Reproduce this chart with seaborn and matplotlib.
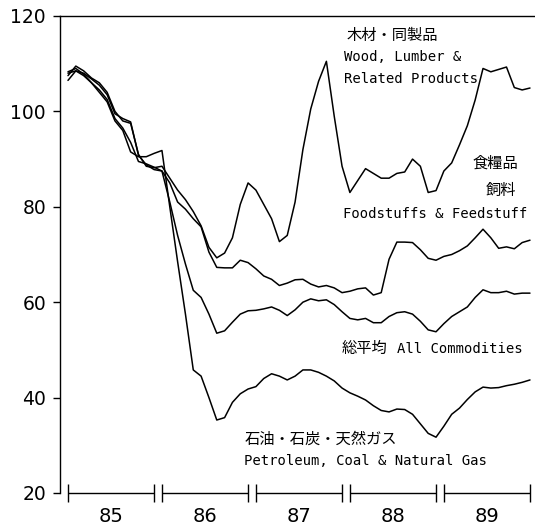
import matplotlib
matplotlib.use("Agg")
import matplotlib.pyplot as plt
import seaborn as sns
import pandas as pd
import numpy as np

# ---- data (monthly index, Jan 1985 .. Dec 1989) ----
years = ["85", "86", "87", "88", "89"]

wood = [107.5, 109.5, 108.5, 107.0, 106.0, 104.0, 100.0, 98.0, 97.5, 91.0, 88.5, 88.2,
        88.5, 86.0, 83.5, 81.5, 79.0, 76.0, 71.5, 69.3, 70.3, 73.5, 80.5, 85.0,
        83.5, 80.5, 77.5, 72.7, 74.0, 81.0, 92.0, 100.5, 106.3, 110.5, 99.0, 88.5,
        83.0, 85.5, 88.0, 87.0, 86.0, 86.0, 87.0, 87.3, 90.0, 88.5, 83.0, 83.4,
        87.5, 89.2, 93.0, 97.0, 102.4, 109.0, 108.3, 108.8, 109.3, 105.0, 104.5, 104.9]

food = [108.0, 108.5, 108.0, 106.8, 105.5, 103.5, 99.5, 98.5, 97.8, 90.8, 88.8, 87.8,
        87.5, 85.0, 81.0, 79.5, 77.5, 75.8, 70.5, 67.3, 67.2, 67.2, 68.8, 68.3,
        67.0, 65.5, 64.8, 63.5, 64.0, 64.7, 64.8, 63.8, 63.2, 63.5, 63.0, 62.0,
        62.3, 62.8, 63.0, 61.5, 62.0, 69.0, 72.6, 72.6, 72.5, 71.0, 69.2, 68.8,
        69.6, 70.0, 70.8, 71.8, 73.5, 75.3, 73.5, 71.3, 71.6, 71.2, 72.5, 73.0]

allc = [106.5, 108.5, 107.5, 106.0, 104.5, 102.5, 98.5, 96.5, 93.5, 89.5, 89.0, 88.3,
        87.5, 81.0, 74.0, 68.0, 62.5, 61.0, 57.5, 53.5, 54.0, 55.8, 57.5, 58.2,
        58.3, 58.6, 59.0, 58.3, 57.2, 58.4, 60.0, 60.7, 60.3, 60.5, 59.5, 58.0,
        56.6, 56.3, 56.6, 55.7, 55.7, 57.0, 57.8, 58.0, 57.5, 56.0, 54.2, 53.8,
        55.5, 57.0, 58.0, 59.0, 61.0, 62.6, 62.0, 62.0, 62.3, 61.7, 61.9, 61.9]

petr = [108.3, 109.0, 107.8, 106.0, 104.0, 102.0, 98.0, 96.0, 91.5, 90.5, 90.5, 91.2,
        91.8, 80.0, 68.5, 57.5, 45.8, 44.5, 40.0, 35.3, 35.8, 39.0, 40.8, 41.8,
        42.3, 44.0, 45.0, 44.5, 43.7, 44.5, 45.8, 45.8, 45.3, 44.5, 43.5, 42.0,
        41.0, 40.3, 39.5, 38.3, 37.3, 37.0, 37.6, 37.5, 36.5, 34.5, 32.5, 31.7,
        34.0, 36.5, 37.8, 39.6, 41.2, 42.2, 42.0, 42.1, 42.5, 42.8, 43.2, 43.7]

series_names = ["wood", "food", "all", "petroleum"]
yticks = [20, 40, 60, 80, 100, 120]

# ---- build long-form table ----
n = len(wood)
month = np.arange(n)
df = pd.concat([
    pd.DataFrame({"month": month, "value": vals, "series": name})
    for name, vals in zip(series_names, [wood, food, allc, petr])
], ignore_index=True)

sns.set_theme(style="white")
plt.rcParams["font.family"] = ["DejaVu Sans"]

fig = plt.figure(figsize=(5.35, 5.25), dpi=100)
ax = fig.add_axes([60 / 535, 32 / 525, 475 / 535, 477 / 525])

sns.lineplot(data=df, x="month", y="value", hue="series", units="series",
             estimator=None, palette=["black"] * 4, legend=False,
             linewidth=1.1, ax=ax)

ax.set_xlim(-1.02, n - 1 + 0.64)
ax.set_ylim(20, 120)
ax.set_xlabel("")
ax.set_ylabel("")

for side in ["right", "bottom"]:
    ax.spines[side].set_visible(False)
for side in ["left", "top"]:
    ax.spines[side].set_color("black")
    ax.spines[side].set_linewidth(1.0)

# y axis
ax.set_yticks(yticks)
ax.set_yticklabels([str(v) for v in yticks])
ax.tick_params(axis="y", direction="out", length=5, width=1.0, pad=5,
               labelsize=13.5, colors="black", left=True)

# x axis: year brackets
starts = [12 * k for k in range(len(years))]
stops = [12 * k + 11 for k in range(len(years))]
ends = sorted(starts + stops)
ax.set_xticks(ends, labels=[""] * len(ends))
ax.tick_params(axis="x", which="major", direction="inout", length=13, width=1.0,
               bottom=True, colors="black")
centers = [12 * k + 5.5 for k in range(len(years))]
ax.set_xticks(centers, labels=years, minor=True)
ax.tick_params(axis="x", which="minor", length=0, pad=10, labelsize=14,
               labelcolor="black", bottom=True)
ax.hlines([20] * len(starts), starts, stops, colors="black", linewidth=1.0,
          clip_on=False)

ax.grid(False)

# ---- annotations ----
mono = dict(family="DejaVu Sans Mono", fontsize=10, color="black")
cjk = dict(family="Noto Sans CJK JP", fontsize=11, color="black")

ax.text(35.6, 116.0, "木材・同製品", ha="left", va="center", **cjk)
ax.text(35.2, 111.4, "Wood, Lumber &", ha="left", va="center", **mono)
ax.text(35.2, 106.8, "Related Products", ha="left", va="center", **mono)

ax.text(57.5, 89.2, "食糧品", ha="right", va="center", **cjk)
ax.text(57.3, 83.5, "飼料", ha="right", va="center", **cjk)
ax.text(35.1, 78.5, "Foodstuffs & Feedstuff", ha="left", va="center", **mono)

ax.text(35.0, 50.2, "総平均", ha="left", va="center", **cjk)
ax.text(42.0, 50.2, "All Commodities", ha="left", va="center", **mono)

ax.text(22.5, 31.3, "石油・石炭・天然ガス", ha="left", va="center", **cjk)
ax.text(22.5, 26.7, "Petroleum, Coal & Natural Gas", ha="left", va="center", **mono)

fig.savefig("out.png", dpi=100, facecolor="white")
